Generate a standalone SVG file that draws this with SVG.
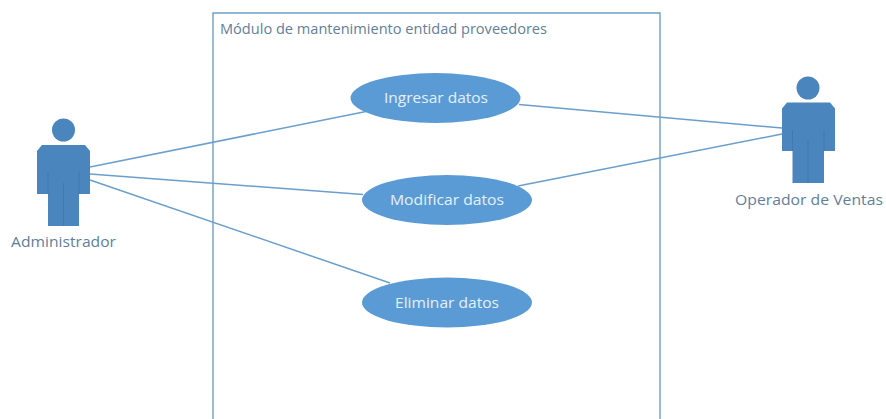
<svg xmlns="http://www.w3.org/2000/svg" width="886" height="419" viewBox="0 0 886 419">
<style>
text{font-family:"Open Sans","Noto Sans","Liberation Sans",sans-serif;font-size:14.500px}
.l{fill:#5f7f9c}
.u{fill:#e4f0f9;font-size:15px}
.e{fill:#5b9bd5}
.a{fill:#4a86bd}
.s{fill:none;stroke:#3a72a5;stroke-width:.8;opacity:.7}
.c{fill:none;stroke:#6a9fcb;stroke-width:1.500}
</style>
<rect width="886" height="419" fill="#fff"/>
<g id="system"><path d="M213 419V13H660V419" fill="none" stroke="#6f9fc6" stroke-width="1.400"/>
<text class="l" x="220" y="34" textLength="327" lengthAdjust="spacingAndGlyphs">Módulo de mantenimiento entidad proveedores</text></g>
<g id="connectors">
<path class="c" d="M90 167L366 111.500"/>
<path class="c" d="M90 174L363 194.500"/>
<path class="c" d="M90 180L390 283"/>
<path class="c" d="M519 104.500L782 128"/>
<path class="c" d="M518 186L782 134"/>
</g>
<g id="actor-administrador">
<circle class="a" cx="63.500" cy="130" r="11.500"/>
<path class="a" d="M42 145H85L90 151V194H79V226H48V194H37V151Z"/>
<path class="s" d="M48 172V194M79 172V194M63.500 183V226"/>
<text class="l" x="11" y="247" textLength="105" lengthAdjust="spacingAndGlyphs">Administrador</text>
</g>
<g id="actor-operador">
<circle class="a" cx="808" cy="88" r="11.500"/>
<path class="a" d="M787 102.500H830L835 108.500V151H824V183H792.500V151H782V108.500Z"/>
<path class="s" d="M792.500 130V151M824 130V151M808 140V183"/>
<text class="l" x="735" y="205" textLength="148" lengthAdjust="spacingAndGlyphs">Operador de Ventas</text>
</g>
<g id="uc-ingresar"><ellipse class="e" cx="435.500" cy="98" rx="85" ry="25"/><text class="u" x="384" y="103" textLength="104" lengthAdjust="spacingAndGlyphs">Ingresar datos</text></g>
<g id="uc-modificar"><ellipse class="e" cx="447" cy="200" rx="85" ry="25"/><text class="u" x="390" y="205" textLength="114" lengthAdjust="spacingAndGlyphs">Modificar datos</text></g>
<g id="uc-eliminar"><ellipse class="e" cx="447" cy="302.500" rx="85" ry="25"/><text class="u" x="395" y="308" textLength="104" lengthAdjust="spacingAndGlyphs">Eliminar datos</text></g>
</svg>
